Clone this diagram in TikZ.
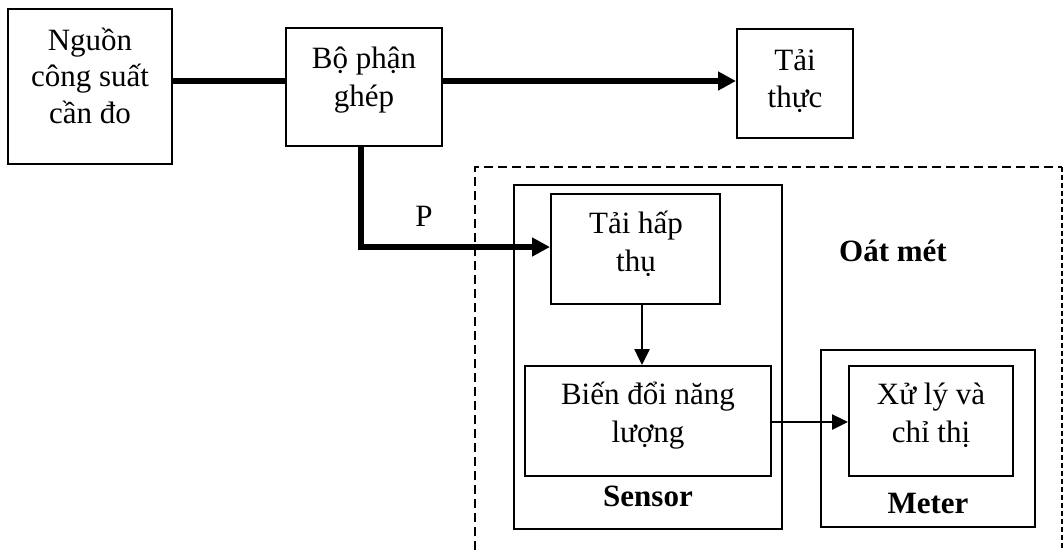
\documentclass[tikz,border=0pt]{standalone}
\usepackage{fontspec}
\setmainfont{Liberation Serif}
\usetikzlibrary{arrows.meta}
\begin{document}
\begin{tikzpicture}[x=1pt,y=-1pt,
  box/.style={draw, line width=2pt, rectangle, inner sep=0pt},
  txt/.style={font=\fontsize{31}{38}\selectfont, anchor=base, inner sep=0pt},
  lbl/.style={font=\fontsize{31}{38}\selectfont\bfseries, anchor=base, inner sep=0pt},
  thickline/.style={line width=6pt},
  thinarrow/.style={line width=2.5pt, -{Triangle[length=16pt,width=15pt]}},
  thickarrow/.style={line width=6pt, -{Triangle[length=18pt,width=18pt]}},
  frame/.style={line width=2pt, dash pattern=on 9pt off 5pt},
]
\fill[white] (0,0) rectangle (1064,550);
\useasboundingbox (0,0) rectangle (1064,550);

% boxes
\node[box, minimum width=164pt, minimum height=155pt] (nguon) at (90,86.5) {};
\node[box, minimum width=156pt, minimum height=118pt] (bophan) at (364,87) {};
\node[box, minimum width=116pt, minimum height=109pt] (taithuc) at (795,83.5) {};
\node[box, minimum width=268pt, minimum height=344pt] (sensor) at (648,357) {};
\node[box, minimum width=169pt, minimum height=110pt] (taihap) at (635.5,249) {};
\node[box, minimum width=246pt, minimum height=110pt] (biendoi) at (648,421) {};
\node[box, minimum width=214pt, minimum height=177pt] (meter) at (928,438.5) {};
\node[box, minimum width=164pt, minimum height=110pt] (xuly) at (931,421) {};

% dashed frame
\coordinate (fbl) at (475,550);
\coordinate (ftl) at (475,167);
\coordinate (ftr) at (1062,167);
\coordinate (fbr) at (1062,550);
\draw[frame] (fbl) -- (ftl) -- (ftr);
\draw[line width=2.5pt, dash pattern=on 5pt off 3pt] (ftr) -- (fbr);

% texts
\node[txt] (t1a) at (90,50) {Nguồn};
\node[txt] (t1b) at (90,86) {công suất};
\node[txt] (t1c) at (90,123) {cần đo};
\node[txt] (t2a) at (364,68) {Bộ phận};
\node[txt] (t2b) at (364,106) {ghép};
\node[txt] (t3a) at (795,70) {Tải};
\node[txt] (t3b) at (795,107) {thực};
\node[txt] (t4a) at (636,233) {Tải hấp};
\node[txt] (t4b) at (636,271) {thụ};
\node[txt] (t5a) at (648,404) {Biến đổi năng};
\node[txt] (t5b) at (648,442) {lượng};
\node[txt] (t6a) at (931,404) {Xử lý và};
\node[txt] (t6b) at (931,442) {chỉ thị};
\node[txt] (tp) at (424,226) {P};
\node[lbl] (toat) at (893,261) {Oát mét};
\node[lbl] (tsensor) at (648,506) {Sensor};
\node[lbl] (tmeter) at (928,513) {Meter};

% connectors
\draw[thickline] (nguon.east |- 0,81) -- (bophan.west |- 0,81);
\draw[thickarrow] (bophan.east |- 0,81) -- (taithuc.west |- 0,81);
\draw[thickarrow, line join=miter] (bophan.south -| 361,0) |- (taihap.west |- 0,247);
\draw[thinarrow] (taihap.south -| 642,0) -- (biendoi.north -| 642,0);
\draw[thinarrow] (biendoi.east |- 0,422) -- (xuly.west |- 0,422);
\end{tikzpicture}
\end{document}
